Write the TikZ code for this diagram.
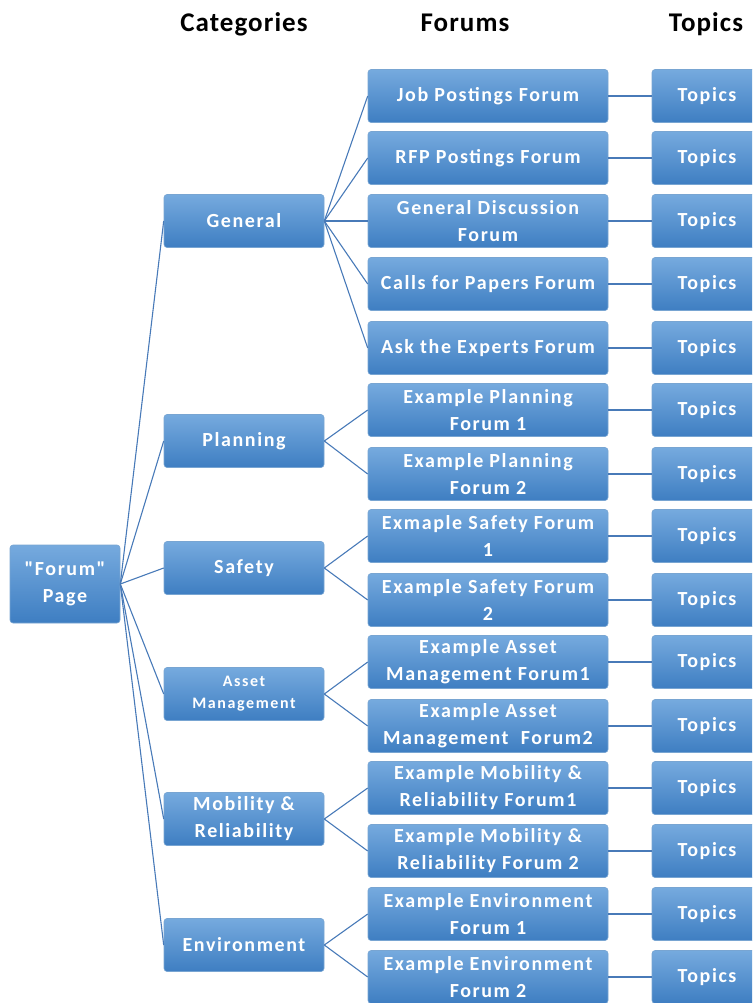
\documentclass[tikz,border=0pt]{standalone}
\usepackage{fontspec}
\setmainfont{Carlito}
\definecolor{boxtop}{RGB}{118,170,222}
\definecolor{boxmid}{RGB}{86,150,214}
\definecolor{boxbot}{RGB}{62,126,194}
\definecolor{boxedge}{RGB}{120,165,210}
\definecolor{linkc}{RGB}{72,122,184}
\tikzset{
  bluebox/.style={shade, top color=boxtop, middle color=boxmid, bottom color=boxbot,
    draw=boxedge, line width=0.6pt, rounded corners=3pt, text=white, align=center,
    inner sep=0pt, font=\fontsize{20}{27}\selectfont\bfseries\addfontfeatures{LetterSpace=8}},
  rootbox/.style={bluebox, minimum width=110pt, minimum height=78pt},
  catbox/.style={bluebox, minimum width=160pt, minimum height=53pt},
  forumbox/.style={bluebox, minimum width=240pt, minimum height=53pt},
  topicbox/.style={bluebox, minimum width=110pt, minimum height=53pt},
  header/.style={anchor=base, font=\fontsize{27}{32}\selectfont\bfseries\addfontfeatures{LetterSpace=4}, text=black},
  link/.style={draw=linkc, line width=1.1pt}
}
\begin{document}
\begin{tikzpicture}[x=1pt,y=-1pt]
\useasboundingbox (0,0) rectangle (752,1003);
\clip (0,0) rectangle (752,1003);
% headers
\node[header] (hcat) at (244,32) {Categories};
\node[header] (hfor) at (465,32) {Forums};
\node[header] (htop) at (706,32) {Topics};
% root
\node[rootbox, font=\fontsize{20}{27}\selectfont\bfseries\addfontfeatures{LetterSpace=8,Ligatures=TeXOff}] (root) at (65,584) {"Forum"\\Page};
% categories
\node[catbox] (general) at (244,221) {General};
\node[catbox] (planning) at (244,441) {Planning};
\node[catbox] (safety) at (244,568) {Safety};
\node[catbox, font=\fontsize{16}{22}\selectfont\bfseries\addfontfeatures{LetterSpace=10}] (asset) at (244,694) {Asset\\Management};
\node[catbox] (mobility) at (244,819) {Mobility \&\\Reliability};
\node[catbox] (environment) at (244,945) {Environment};
% forums
\node[forumbox] (f1) at (488,96) {Job Postings Forum};
\node[forumbox] (f2) at (488,158) {RFP Postings Forum};
\node[forumbox] (f3) at (488,221) {General Discussion\\Forum};
\node[forumbox] (f4) at (488,284) {Calls for Papers Forum};
\node[forumbox] (f5) at (488,348) {Ask the Experts Forum};
\node[forumbox] (f6) at (488,410) {Example Planning\\Forum 1};
\node[forumbox] (f7) at (488,474) {Example Planning\\Forum 2};
\node[forumbox] (f8) at (488,536) {Exmaple Safety Forum\\1};
\node[forumbox] (f9) at (488,600) {Example Safety Forum\\2};
\node[forumbox] (f10) at (488,662) {Example Asset\\Management Forum1};
\node[forumbox] (f11) at (488,726) {Example Asset\\Management\ \ Forum2};
\node[forumbox] (f12) at (488,788) {Example Mobility \&\\Reliability Forum1};
\node[forumbox] (f13) at (488,851) {Example Mobility \&\\Reliability Forum 2};
\node[forumbox] (f14) at (488,914) {Example Environment\\Forum 1};
\node[forumbox] (f15) at (488,977) {Example Environment\\Forum 2};
% topics
\foreach \i/\y in {1/96,2/158,3/221,4/284,5/348,6/410,7/474,8/536,9/600,10/662,11/726,12/788,13/851,14/914,15/977}{
  \node[topicbox] (t\i) at (707,\y) {Topics};
  \draw[link] (f\i.east) -- (t\i.west);
}
% root to categories
\foreach \c in {general,planning,safety,asset,mobility,environment}{
  \draw[link] (root.east) -- (\c.west);
}
% categories to forums
\foreach \f in {f1,f2,f3,f4,f5}{\draw[link] (general.east) -- (\f.west);}
\foreach \f in {f6,f7}{\draw[link] (planning.east) -- (\f.west);}
\foreach \f in {f8,f9}{\draw[link] (safety.east) -- (\f.west);}
\foreach \f in {f10,f11}{\draw[link] (asset.east) -- (\f.west);}
\foreach \f in {f12,f13}{\draw[link] (mobility.east) -- (\f.west);}
\foreach \f in {f14,f15}{\draw[link] (environment.east) -- (\f.west);}
\end{tikzpicture}
\end{document}
